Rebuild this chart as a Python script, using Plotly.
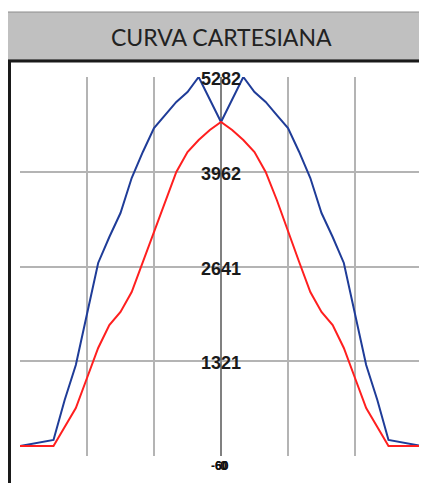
import plotly.graph_objects as go

angles = [-90, -75, -70, -65, -60, -55, -50, -45, -40, -35, -30, -25, -20, -15, -10, -5, 0,
          5, 10, 15, 20, 25, 30, 35, 40, 45, 50, 55, 60, 65, 70, 75, 90]
blue_half = [139, 223, 780, 1268, 1980, 2690, 3052, 3386, 3874, 4237, 4571, 4752, 4934, 5073, 5282, 4968, 4655]
red_half = [139, 139, 404, 669, 1087, 1505, 1826, 2007, 2285, 2704, 3122, 3568, 3958, 4237, 4404, 4543, 4655]
blue_vals = blue_half + blue_half[-2::-1]
red_vals = red_half + red_half[-2::-1]

y_ticks = [0, 1321, 2641, 3962, 5282]
y_labels = ["", "1321", "2641", "3962", "5282"]
x_ticks = [-90, -60, -30, 0, 30, 60, 90]
x_label_texts = ["-60", "60", "0"]
title_text = "CURVA CARTESIANA"

# page offset of the figure (default html body margin)
OFF = 8
W, H = 427 - OFF, 483 - OFF
l, r, t, b = 12, 5, 69, 27
pw, ph = W - l - r, H - t - b


def px(xp):
    return (xp - OFF - l) / pw


def py(yp):
    return (H - b - (yp - OFF)) / ph


fig = go.Figure()
fig.add_trace(go.Scatter(x=angles, y=blue_vals, mode="lines",
                         line=dict(color="#1f3c98", width=2), hoverinfo="skip"))
fig.add_trace(go.Scatter(x=angles, y=red_vals, mode="lines",
                         line=dict(color="#ff1f1f", width=2), hoverinfo="skip"))

fig.update_layout(
    width=W, height=H,
    margin=dict(l=l, r=r, t=t, b=b),
    paper_bgcolor="white", plot_bgcolor="white",
    showlegend=False,
    xaxis=dict(range=[-90, 90], tickvals=x_ticks, showticklabels=False,
               showgrid=True, gridcolor="#b4b4b4", gridwidth=2,
               zeroline=True, zerolinecolor="#808080", zerolinewidth=2,
               showline=False, fixedrange=True),
    yaxis=dict(range=[0, 5282], tickvals=y_ticks, showticklabels=False,
               showgrid=True, gridcolor="#b4b4b4", gridwidth=2,
               zeroline=False, showline=False, fixedrange=True),
)

annotations = []
for v, txt in zip(y_ticks, y_labels):
    if txt:
        annotations.append(dict(x=0, y=v, xref="x", yref="y", text="<b>%s</b>" % txt,
                                showarrow=False, yshift=-2,
                                font=dict(family="Liberation Sans, Arial", size=18, color="#1a1a1a"),
                                xanchor="center", yanchor="middle"))
# overlapping x labels at the centre
for i, txt in enumerate(x_label_texts):
    annotations.append(dict(x=0, y=0, xref="x", yref="y", text="<b>%s</b>" % txt, showarrow=False,
                            xshift=[-1, 1, 2][i], yshift=-10,
                            font=dict(family="Liberation Sans, Arial", size=12, color="#111"),
                            xanchor="center", yanchor="middle"))

annotations.append(dict(x=px(221), y=py(37), xref="paper", yref="paper", text=title_text,
                        showarrow=False,
                        font=dict(family="Lato, Open Sans", size=23, color="#222222"),
                        xanchor="center", yanchor="middle"))
fig.update_layout(annotations=annotations)

shapes = [
    dict(type="rect", xref="paper", yref="paper", x0=px(7), x1=px(440), y0=py(60), y1=py(12),
         fillcolor="#c0c0c0", line=dict(color="#8c8c8c", width=1), layer="below"),
    dict(type="line", xref="paper", yref="paper", x0=px(7), x1=px(440), y0=py(61), y1=py(61),
         line=dict(color="#1a1a1a", width=3)),
    dict(type="line", xref="paper", yref="paper", x0=px(9.5), x1=px(9.5), y0=py(60), y1=py(500),
         line=dict(color="#1a1a1a", width=3)),
]
fig.update_layout(shapes=shapes)

fig.write_html("out.html")
